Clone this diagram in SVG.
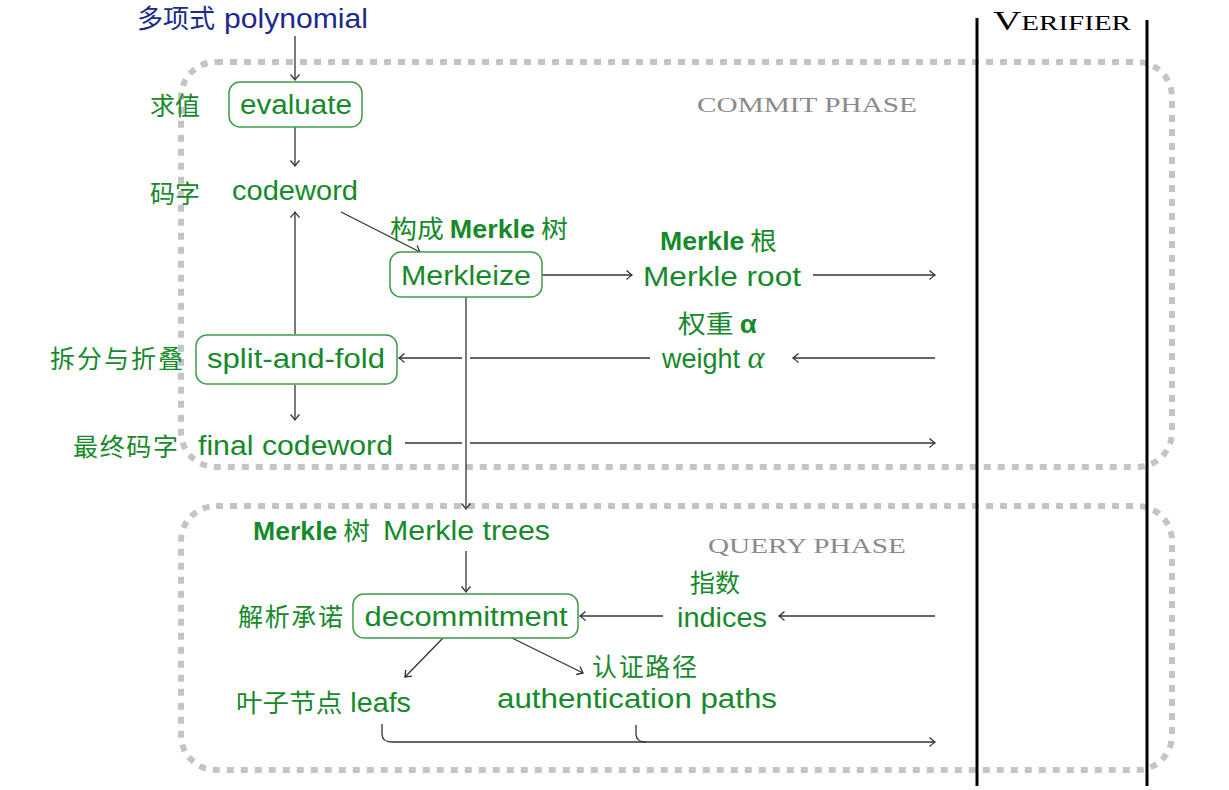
<svg xmlns="http://www.w3.org/2000/svg" width="1229" height="790" viewBox="0 0 1229 790">
<defs>
<marker id="ah" markerWidth="12" markerHeight="12" viewBox="-7 -6 8 12" refX="0" refY="0" orient="auto" markerUnits="userSpaceOnUse">
<path d="M -5.5 -4.5 Q -1.5 -1 0 0 Q -1.5 1 -5.5 4.5" fill="none" stroke="#333" stroke-width="1.3"/>
</marker>
<style>
.phase{fill:none;stroke:#c4c4c4;stroke-width:6;stroke-dasharray:7 7}
.vl{stroke:#000;stroke-width:3}
.box{fill:#fff;stroke:#3c9e48;stroke-width:1.5}
.t{font-family:"Liberation Sans","DejaVu Sans",sans-serif;font-size:27px;fill:#168a2a}
.cn{font-family:"Noto Sans CJK SC",sans-serif;font-size:25px;fill:#168a2a}
.b{font-weight:bold}
.gray{font-family:"Liberation Serif",serif;fill:#8a8a8a;font-size:21px}
.c{stroke:#333;stroke-width:1.3;fill:none}
</style>
</defs>
<rect class="phase" x="181" y="62" width="991" height="405" rx="35"/>
<rect class="phase" x="181" y="506" width="991" height="264" rx="35"/>
<line class="vl" x1="977" y1="18" x2="977" y2="786"/>
<line class="vl" x1="1147" y1="20" x2="1147" y2="786"/>
<text x="993" y="30" font-family="Liberation Serif,serif" font-size="27" fill="#000" textLength="138" lengthAdjust="spacingAndGlyphs">V<tspan font-size="20">ERIFIER</tspan></text>
<text class="gray" x="697" y="112" textLength="220" lengthAdjust="spacingAndGlyphs">COMMIT  PHASE</text>
<text class="gray" x="708" y="553" textLength="198" lengthAdjust="spacingAndGlyphs">QUERY  PHASE</text>

<g id="connectors">
<line class="c" x1="295" y1="36" x2="295" y2="80" marker-end="url(#ah)"/>
<line class="c" x1="295" y1="127" x2="295" y2="166" marker-end="url(#ah)"/>
<line class="c" x1="341" y1="212" x2="420" y2="252" marker-end="url(#ah)"/>
<line class="c" x1="542" y1="275" x2="632" y2="275" marker-end="url(#ah)"/>
<line class="c" x1="813" y1="275" x2="935" y2="275" marker-end="url(#ah)"/>
<line class="c" x1="466" y1="297" x2="466" y2="509" marker-end="url(#ah)"/>
<line class="c" x1="295" y1="334" x2="295" y2="212" marker-end="url(#ah)"/>
<polyline class="c" points="650,358 470,358"/>
<line class="c" x1="462" y1="358" x2="399" y2="358" marker-end="url(#ah)"/>
<line class="c" x1="935" y1="358" x2="793" y2="358" marker-end="url(#ah)"/>
<line class="c" x1="295" y1="385" x2="295" y2="420" marker-end="url(#ah)"/>
<polyline class="c" points="405,443 462,443"/>
<line class="c" x1="470" y1="443" x2="935" y2="443" marker-end="url(#ah)"/>
<line class="c" x1="466" y1="551" x2="466" y2="592" marker-end="url(#ah)"/>
<line class="c" x1="663" y1="616" x2="580" y2="616" marker-end="url(#ah)"/>
<line class="c" x1="935" y1="616" x2="779" y2="616" marker-end="url(#ah)"/>
<line class="c" x1="443" y1="638" x2="405" y2="677" marker-end="url(#ah)"/>
<line class="c" x1="512" y1="638" x2="583" y2="673" marker-end="url(#ah)"/>
<path class="c" d="M 382 724 L 382 734 Q 382 742 392 742 L 935 742" marker-end="url(#ah)"/>
<path class="c" d="M 636 725 L 636 734 Q 636 742 646 742"/>
</g>

<g id="polynomial">
<text x="137" y="28" font-size="26" fill="#1b2a8c"><tspan font-family="Noto Sans CJK SC,sans-serif">多项式</tspan><tspan font-family="Liberation Sans,sans-serif" font-size="27" x="224" textLength="144" lengthAdjust="spacingAndGlyphs">polynomial</tspan></text>
</g>
<g id="evaluate">
<rect class="box" x="229" y="82" width="133" height="45" rx="11"/>
<text class="t" x="296" y="114" text-anchor="middle" textLength="112" lengthAdjust="spacingAndGlyphs">evaluate</text>
<text class="cn" x="150" y="115">求值</text>
</g>
<g id="codeword">
<text class="t" x="232" y="200" textLength="126" lengthAdjust="spacingAndGlyphs">codeword</text>
<text class="cn" x="150" y="203">码字</text>
</g>
<g id="merkleize">
<rect class="box" x="390" y="252" width="152" height="45" rx="11"/>
<text class="t" x="466" y="285" text-anchor="middle" textLength="130" lengthAdjust="spacingAndGlyphs">Merkleize</text>
<text class="cn" x="390" y="238" textLength="178" lengthAdjust="spacingAndGlyphs">构成 <tspan class="b" font-family="Liberation Sans,sans-serif" font-size="25">Merkle</tspan> 树</text>
</g>
<g id="merkle-root">
<text class="t" x="643" y="286" textLength="158" lengthAdjust="spacingAndGlyphs">Merkle root</text>
<text class="cn" x="660" y="250" textLength="117" lengthAdjust="spacingAndGlyphs"><tspan class="b" font-family="Liberation Sans,sans-serif" font-size="25">Merkle</tspan> 根</text>
</g>
<g id="weight">
<text class="t" x="662" y="368">weight <tspan font-family="Liberation Serif,serif" font-style="italic" font-size="32">α</tspan></text>
<text class="cn" x="678" y="333" textLength="79" lengthAdjust="spacingAndGlyphs">权重 <tspan class="b" font-family="Liberation Sans,sans-serif" font-size="25">α</tspan></text>
</g>
<g id="split-and-fold">
<rect class="box" x="196" y="335" width="201" height="49" rx="11"/>
<text class="t" x="296" y="368" text-anchor="middle" textLength="178" lengthAdjust="spacingAndGlyphs">split-and-fold</text>
<text class="cn" x="50" y="368" textLength="133">拆分与折叠</text>
</g>
<g id="final-codeword">
<text class="t" x="198" y="455" textLength="195" lengthAdjust="spacingAndGlyphs">final codeword</text>
<text class="cn" x="73" y="456" textLength="105">最终码字</text>
</g>
<g id="merkle-trees">
<text class="t" x="383" y="540" textLength="167" lengthAdjust="spacingAndGlyphs">Merkle trees</text>
<text class="cn" x="253" y="540" textLength="117" lengthAdjust="spacingAndGlyphs"><tspan class="b" font-family="Liberation Sans,sans-serif" font-size="25">Merkle</tspan> 树</text>
</g>
<g id="decommitment">
<rect class="box" x="353" y="594" width="225" height="44" rx="11"/>
<text class="t" x="466" y="626" text-anchor="middle" textLength="203" lengthAdjust="spacingAndGlyphs">decommitment</text>
<text class="cn" x="238" y="626" textLength="105">解析承诺</text>
</g>
<g id="indices">
<text class="t" x="677" y="627" textLength="90" lengthAdjust="spacingAndGlyphs">indices</text>
<text class="cn" x="690" y="592">指数</text>
</g>
<g id="leafs">
<text class="t" x="236" y="712" textLength="175" lengthAdjust="spacingAndGlyphs"><tspan font-family="Noto Sans CJK SC,sans-serif" font-size="25">叶子节点</tspan> leafs</text>
</g>
<g id="auth-paths">
<text class="t" x="497" y="708" textLength="280" lengthAdjust="spacingAndGlyphs">authentication paths</text>
<text class="cn" x="592" y="676" textLength="105">认证路径</text>
</g>
</svg>
